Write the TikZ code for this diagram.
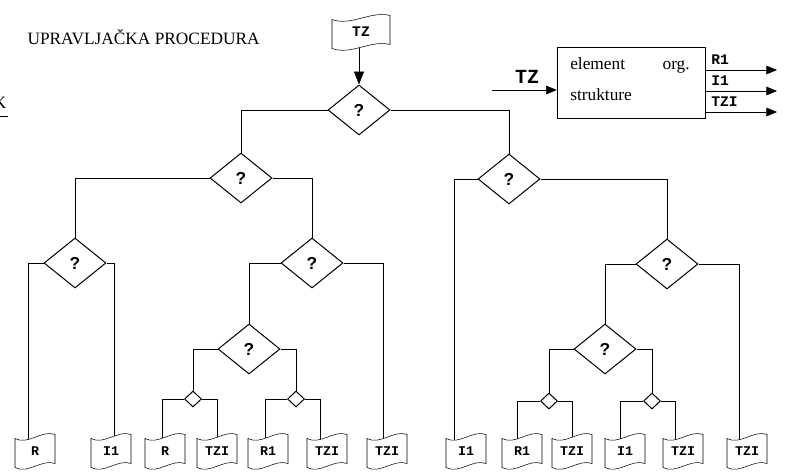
\documentclass[tikz,border=0pt]{standalone}
\usepackage{fontspec}
\setmainfont{Liberation Serif}
\newfontfamily\courf{Liberation Mono}
\newfontfamily\arialf{Liberation Sans}
\usetikzlibrary{shapes.geometric,arrows.meta,calc}
\pgfdeclarelayer{conn}
\pgfdeclarelayer{outl}
\pgfsetlayers{conn,outl,main}
\newcommand\wavy[2]{%
  \draw[fill=white] ($(#1.north west)+(0,2)$) .. controls ($(#1.north)+(-#2,9)$) and ($(#1.north)+(#2,-7)$) .. ($(#1.north east)+(0,-2)$)
    -- ($(#1.south east)+(0,-2)$) .. controls ($(#1.south)+(#2,-7)$) and ($(#1.south)+(-#2,9)$) .. ($(#1.south west)+(0,2)$) -- cycle;}
\begin{document}
\begin{tikzpicture}[x=0.75pt,y=-0.75pt,line width=0.75pt,
  dec/.style={diamond,draw,inner sep=0pt,minimum width=46.5pt,minimum height=37.5pt,font=\arialf\bfseries\fontsize{13}{13}\selectfont},
  sdec/.style={diamond,draw,inner sep=0pt,minimum width=12.75pt,minimum height=12pt},
  docn/.style={rectangle,inner sep=0pt,minimum width=29.25pt,minimum height=21pt,font=\courf\bfseries\fontsize{10}{10}\selectfont},
  arr/.style={-{Triangle[length=8pt,width=6.5pt]}},
  bigarr/.style={-{Triangle[length=9.75pt,width=7.5pt]}},
  lbl/.style={inner sep=0pt,font=\courf\bfseries\fontsize{11}{11}\selectfont},
  tms/.style={inner sep=0pt,font=\fontsize{13}{13}\selectfont}]
\useasboundingbox (0,0) rectangle (791,475);

% title and clipped label
\node[tms,anchor=base west] (title) at (27,44) {UPRAVLJAČKA PROCEDURA};
\node[tms,anchor=base east] (kk) at (7,108) {K};
\draw (kk.south west |- 0,116) -- (8,116);

% decisions
\node[dec] (d0) at (359,110) {?};
\node[dec] (dL) at (241,178) {?};
\node[dec] (dR) at (509,179) {?};
\node[dec] (dLL) at (75,263) {?};
\node[dec] (dLR) at (312,263) {?};
\node[dec] (dRR) at (667,264) {?};
\node[dec] (dLRx) at (249,349) {?};
\node[dec] (dRRx) at (605,349) {?};
\node[sdec] (sA) at (193,399) {};
\node[sdec] (sB) at (296,399) {};
\node[sdec] (sC) at (549,401) {};
\node[sdec] (sD) at (652,401) {};

% documents
\node[docn,minimum width=42.75pt,font=\courf\bfseries\fontsize{11}{11}\selectfont] (tz) at (361,32) {TZ};
\node[docn] (l1) at (35,451) {R};
\node[docn] (l2) at (111,451) {I1};
\node[docn] (l3) at (165,451) {R};
\node[docn] (l4) at (217,451) {TZI};
\node[docn] (l5) at (268,451) {R1};
\node[docn] (l6) at (327,451) {TZI};
\node[docn] (l7) at (387,451) {TZI};
\node[docn] (r1) at (466,451) {I1};
\node[docn] (r2) at (522,451) {R1};
\node[docn] (r3) at (572,451) {TZI};
\node[docn] (r4) at (625,451) {I1};
\node[docn] (r5) at (683,451) {TZI};
\node[docn] (r6) at (747,451) {TZI};

\begin{pgfonlayer}{outl}
\wavy{tz}{10}
\foreach \n in {l1,l2,l3,l4,l5,l6,l7,r1,r2,r3,r4,r5,r6}{\wavy{\n}{7}}
\end{pgfonlayer}

\begin{pgfonlayer}{conn}
\draw[bigarr] ($(tz.center)+(-2,0)$) -- (d0.north);
\draw (d0.west) -| (dL.north);
\draw (d0.east) -| (dR.north);
\draw (dL.west) -| (dLL.north);
\draw (dL.east) -| (dLR.north);
\draw (dLL.west) -| ($(l1.center)+(-7,0)$);
\draw (dLL.east) -| ($(l2.center)+(3,0)$);
\draw (dLR.west) -| (dLRx.north);
\draw (dLR.east) -| ($(l7.center)+(-4,0)$);
\draw (dLRx.west) -| (sA.north);
\draw (dLRx.east) -| (sB.north);
\draw (sA.west) -| ($(l3.center)+(-3,0)$);
\draw (sA.east) -| (l4.center);
\draw (sB.west) -| ($(l5.center)+(-3,0)$);
\draw (sB.east) -| ($(l6.center)+(-7,0)$);
\draw (dR.west) -| ($(r1.center)+(-12,0)$);
\draw (dR.east) -| (dRR.north);
\draw (dRR.west) -| (dRRx.north);
\draw (dRR.east) -| ($(r6.center)+(-8,0)$);
\draw (dRRx.west) -| (sC.north);
\draw (dRRx.east) -| (sD.north);
\draw (sC.west) -| ($(r2.center)+(-5,0)$);
\draw (sC.east) -| (r3.center);
\draw (sD.west) -| ($(r4.center)+(-5,0)$);
\draw (sD.east) -| ($(r5.center)+(-8,0)$);
\end{pgfonlayer}

% legend box
\node[draw,inner sep=0pt,minimum width=111pt,minimum height=53.25pt] (box) at (631,82.5) {};
\node[tms,anchor=base west] (t1) at (570,69) {element};
\node[tms,anchor=base east] (t2) at (690,69) {org.};
\node[tms,anchor=base west] (t3) at (570,100) {strukture};
\coordinate (tzin) at (492,90);
\draw[arr] (tzin) -- (tzin -| box.west);
\node[inner sep=0pt,anchor=base,font=\courf\bfseries\fontsize{15}{15}\selectfont] (tzl) at (527,83) {TZ};
\coordinate (o1) at (777,70);
\coordinate (o2) at (777,91);
\coordinate (o3) at (777,112);
\draw[arr] (box.east |- o1) -- (o1);
\draw[arr] (box.east |- o2) -- (o2);
\draw[arr] (box.east |- o3) -- (o3);
\node[lbl,anchor=base west] (lr1) at (711,64) {R1};
\node[lbl,anchor=base west] (lr2) at (711,85) {I1};
\node[lbl,anchor=base west] (lr3) at (711,106) {TZI};
\end{tikzpicture}
\end{document}
